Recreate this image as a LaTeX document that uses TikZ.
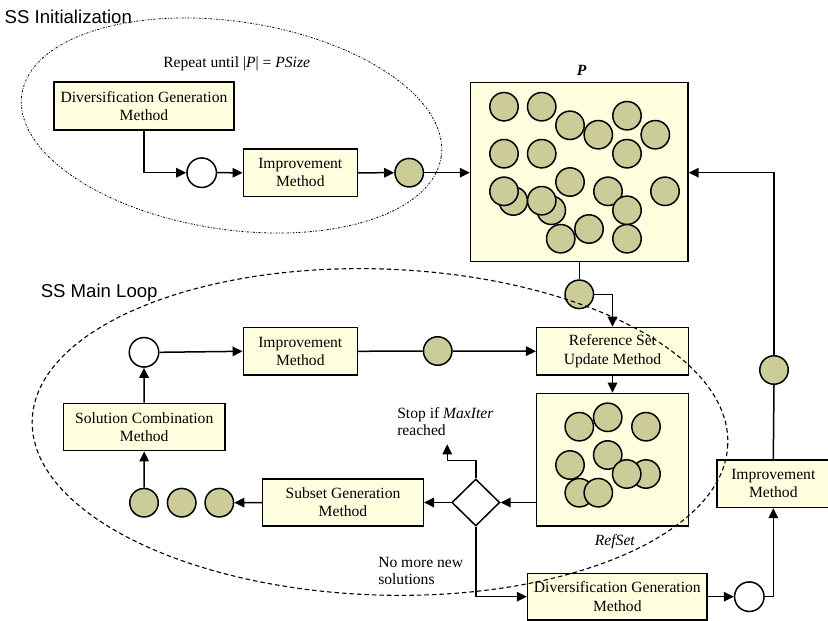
\documentclass[tikz,border=0pt]{standalone}
\usepackage{fontspec}
\setmainfont{Liberation Serif}
\setsansfont{Liberation Sans}
\usetikzlibrary{arrows.meta,shapes.geometric}
\definecolor{boxfill}{RGB}{255,255,224}
\definecolor{solfill}{RGB}{204,204,153}
\begin{document}
\begin{tikzpicture}[x=1pt, y=-1pt, line width=1.5pt,
    box/.style={draw, fill=boxfill, align=center, inner sep=0pt,
                font=\fontsize{15.6}{18.3}\selectfont},
    sol/.style={circle, draw, fill=solfill, minimum size=28.5pt, inner sep=0pt},
    hollow/.style={circle, draw, fill=white, minimum size=29.5pt, inner sep=0pt},
    gate/.style={diamond, draw, fill=white, minimum width=48pt, minimum height=47pt, inner sep=0pt},
    flow/.style={-{Triangle[length=10pt,width=9.5pt]}},
    note/.style={align=left, inner sep=0pt, font=\fontsize{15.6}{17}\selectfont},
    head/.style={inner sep=0pt, font=\sffamily\fontsize{18.6}{20}\selectfont}]
  \useasboundingbox (0,0) rectangle (828,621);
  % initialization part
  \node[head, anchor=west] at (4,17) {SS Initialization};
  \node[note, anchor=center] (repeat) at (236.7,63.3) {Repeat until |\textit{P}| = \textit{PSize}};
  \node[box, minimum width=180pt, minimum height=47.7pt] (divA) at (144,106) {Diversification Generation\\Method};
  \node[hollow] (newA) at (201.7,172.7) {};
  \node[box, minimum width=114pt, minimum height=47.7pt] (impA) at (300.3,172.8) {Improvement\\Method};
  \node[sol] (solA) at (409.2,172.7) {};
  % the population P
  \node[box, minimum width=217.3pt, minimum height=179pt] (pool) at (579.3,172.2) {};
  \node[note] (poolname) at (581.7,70.7) {\textbf{\textit{P}}};
  \foreach \x/\y in {504/106.7, 541.7/106.7, 570/125.3, 598.3/134.7, 627/115.7, 655.3/134.7,
                     504/153.7, 541.7/153.7, 627/153.7, 570/182, 513.3/201, 504/191.3,
                     551.3/210.3, 541.7/200.7, 608/191.3, 665/191.3, 627/210.3,
                     560.7/238.7, 589/229, 627/238.7} {
    \filldraw[fill=solfill] (\x,\y) circle (14.2);
  }
  % main loop
  \node[head, anchor=west] at (40,292.3) {SS Main Loop};
  \node[sol] (solB) at (579.3,294.3) {};
  \node[box, minimum width=151.6pt, minimum height=47.7pt] (refUpd) at (612.5,351.2) {Reference Set\\Update Method};
  \node[box, minimum width=151.6pt, minimum height=132.7pt] (refSet) at (612.5,459.7) {};
  \node[note] (refname) at (615,541.7) {\textit{RefSet}};
  \foreach \x/\y in {579.3/426.7, 607.7/417.3, 646/426.7, 607.7/455, 570/465,
                     646/474, 626.7/474, 579.3/492.7, 598.3/492.7} {
    \filldraw[fill=solfill] (\x,\y) circle (14.2);
  }
  \node[sol] (solC) at (437.7,351) {};
  \node[box, minimum width=114pt, minimum height=47.3pt] (impB) at (300.3,351.3) {Improvement\\Method};
  \node[hollow] (newB) at (144,352.3) {};
  \node[box, minimum width=161.7pt, minimum height=47.4pt] (combo) at (144.2,427) {Solution Combination\\Method};
  \node[sol] (subA) at (144,502.7) {};
  \node[sol] (subB) at (181.7,502.7) {};
  \node[sol] (subC) at (219.3,502.7) {};
  \node[box, minimum width=160.7pt, minimum height=47pt] (subset) at (343,502.5) {Subset Generation\\Method};
  \node[gate] (test) at (475.8,502.5) {};
  \coordinate (stopTip) at (447.3,444.3);
  \node[note, anchor=west] (stopnote) at (396.5,421.7) {Stop if \textit{MaxIter}\\reached};
  \node[note, anchor=west] (nomore) at (377.5,570.8) {No more new\\solutions};
  % restart part
  \node[box, minimum width=179.3pt, minimum height=46.7pt] (divB) at (617.3,596.7) {Diversification Generation\\Method};
  \node[hollow] (newC) at (749.3,596.7) {};
  \node[box, minimum width=113pt, minimum height=47.3pt] (impC) at (773.3,483.7) {Improvement\\Method};
  \node[sol] (solD) at (774,370) {};
  % connectors
  \draw[flow] (divA.south) |- (newA.west);
  \draw[flow] (newA.east) -- (impA.west);
  \draw[flow] (impA.east) -- (solA.west);
  \draw[flow] (solA.east) -- (solA -| pool.west);
  \draw (pool.south) -- (solB.north);
  \draw[flow] (solB.east) -| (refUpd.north);
  \draw[flow] (refUpd.south) -- (refSet.north);
  \draw (impB.east) -- (solC.west);
  \draw[flow] (solC.east) -- (refUpd.west);
  \draw[flow] (test.east -| refSet.west) -- (test.east);
  \draw[flow] (test.west) -- (subset.east);
  \draw[flow] (subset.west) -- (subC.east);
  \draw[flow] (subA.north) -- (combo.south);
  \draw[flow] (combo.north) -- (newB.south);
  \draw[flow] (newB.east) -- (impB.west);
  \draw[flow] (test.north) -- ++(0,-18) -| (stopTip);
  \draw[flow] (test.south) |- (divB.west);
  \draw[flow] (divB.east) -- (newC.west);
  \draw[flow] (newC.east) -| (impC.south);
  \draw (impC.north) -- (solD.south);
  \draw[flow] (solD.north) |- (solA -| pool.east);
  % the two loops
  \draw[line width=0.8pt, dash pattern=on 2pt off 1.5pt on 0.7pt off 1.5pt, rotate around={-8.5:(231.5,125.5)}]
    (231.5,125.5) ellipse [x radius=212, y radius=104];
  \draw[line width=1.1pt, dash pattern=on 4.5pt off 3pt, rotate around={-2:(380,432)}]
    (380,432) ellipse [x radius=348, y radius=163];
\end{tikzpicture}
\end{document}
